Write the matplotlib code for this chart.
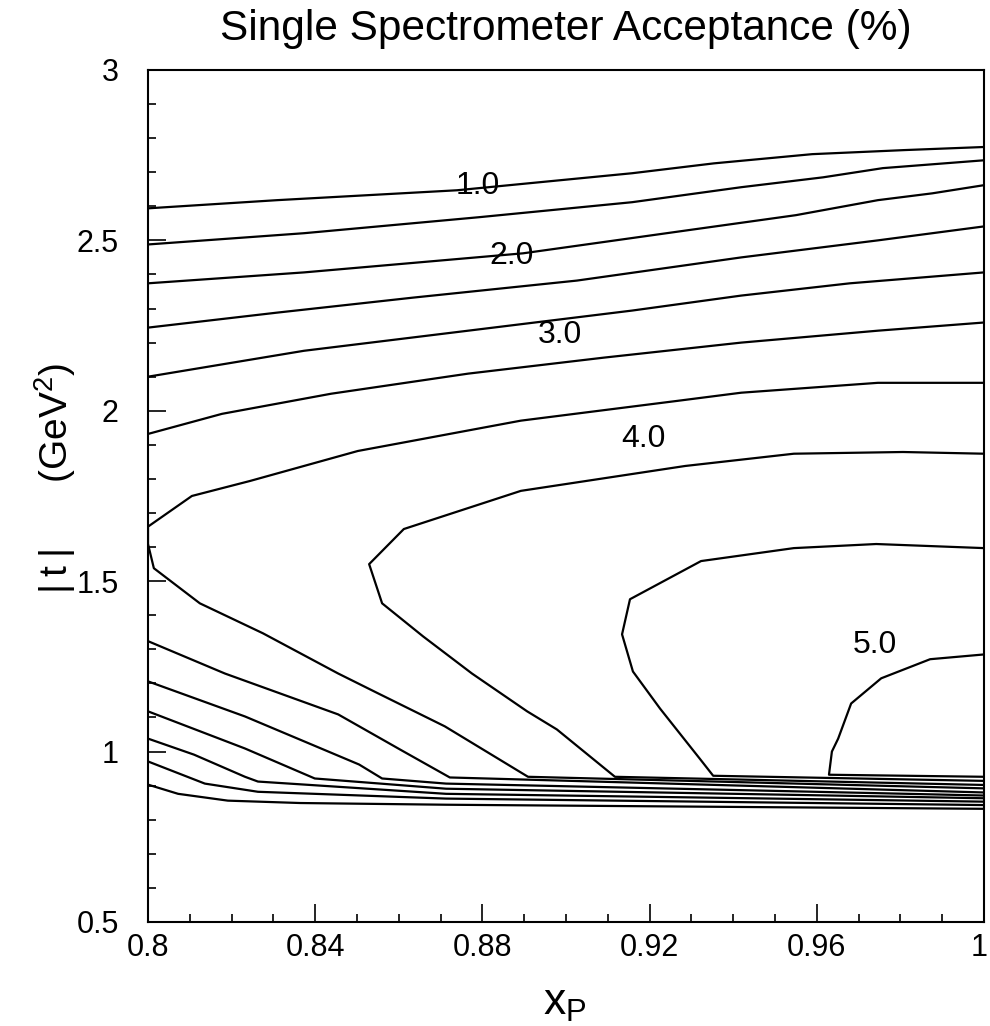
import numpy as np
import matplotlib
matplotlib.use('Agg')
import matplotlib.pyplot as plt
import matplotlib.transforms as mtransforms
from matplotlib.ticker import MultipleLocator

plt.rcParams['font.family'] = ['Liberation Sans', 'DejaVu Sans']
plt.rcParams['mathtext.fontset'] = 'custom'
plt.rcParams['mathtext.rm'] = 'Liberation Sans'
plt.rcParams['mathtext.it'] = 'Liberation Sans'

# contour levels of the acceptance (%)
# upper branches: left edge -> right edge
u05_x = [0.8, 0.8309, 0.8739, 0.9158, 0.9354, 0.9589, 0.9811, 1.0]
u05_t = [2.594, 2.618, 2.647, 2.697, 2.726, 2.753, 2.765, 2.774]
u10_x = [0.8, 0.8373, 0.8792, 0.9158, 0.9419, 0.9615, 0.9758, 1.0]
u10_t = [2.488, 2.521, 2.568, 2.612, 2.656, 2.685, 2.712, 2.735]
u15_x = [0.8, 0.8373, 0.8897, 0.9287, 0.955, 0.9746, 0.9876, 1.0]
u15_t = [2.374, 2.406, 2.462, 2.529, 2.574, 2.618, 2.638, 2.662]
u20_x = [0.8, 0.8309, 0.8634, 0.9026, 0.9419, 0.9746, 1.0]
u20_t = [2.244, 2.288, 2.332, 2.382, 2.45, 2.5, 2.541]
u25_x = [0.8, 0.8373, 0.8766, 0.9158, 0.9419, 0.9679, 1.0]
u25_t = [2.1, 2.176, 2.235, 2.294, 2.338, 2.374, 2.406]
u30_x = [0.8, 0.8177, 0.8438, 0.8766, 0.9091, 0.9419, 0.9746, 1.0]
u30_t = [1.932, 1.991, 2.05, 2.109, 2.156, 2.2, 2.235, 2.259]

# lower branches: left edge -> bundle -> right edge
l05_x = [0.8, 0.8072, 0.8191, 0.8364, 0.8713, 1.0]
l05_t = [0.903, 0.876, 0.856, 0.849, 0.844, 0.832]
l10_x = [0.8, 0.8136, 0.8263, 0.8713, 1.0]
l10_t = [0.971, 0.906, 0.882, 0.862, 0.843]
l15_x = [0.8, 0.811, 0.8232, 0.8263, 0.8713, 1.0]
l15_t = [1.038, 0.991, 0.926, 0.912, 0.876, 0.853]
l20_x = [0.8, 0.8232, 0.8399, 0.8713, 1.0]
l20_t = [1.118, 1.009, 0.921, 0.891, 0.863]
l25_x = [0.8, 0.8232, 0.8505, 0.856, 0.8713, 1.0]
l25_t = [1.206, 1.103, 0.962, 0.921, 0.906, 0.871]
l30_x = [0.8, 0.8184, 0.8455, 0.8603, 0.8722, 1.0]
l30_t = [1.324, 1.229, 1.109, 1.006, 0.924, 0.880]

# levels 3.5 - 5.0: right edge -> around -> bundle -> right edge
c35_x = [1.0, 0.9746, 0.9419, 0.9266, 0.8892, 0.866, 0.8502, 0.8244, 0.8105, 0.8, 0.8,
         0.8014, 0.8124, 0.8275, 0.8455, 0.855, 0.871, 0.8909, 1.0]
c35_t = [2.082, 2.082, 2.053, 2.029, 1.971, 1.918, 1.882, 1.794, 1.75, 1.66, 1.609,
         1.538, 1.435, 1.347, 1.229, 1.171, 1.074, 0.926, 0.892]
c40_x = [1.0, 0.9806, 0.9545, 0.9285, 0.8892, 0.8612, 0.8529, 0.856, 0.8658, 0.8775,
         0.8907, 0.8978, 0.9117, 1.0]
c40_t = [1.874, 1.879, 1.874, 1.838, 1.765, 1.653, 1.55, 1.435, 1.338, 1.229,
         1.118, 1.065, 0.926, 0.902]
c45_x = [1.0, 0.9742, 0.9545, 0.9323, 0.9153, 0.9134, 0.916, 0.9225, 0.932, 0.9352, 1.0]
c45_t = [1.597, 1.609, 1.597, 1.559, 1.447, 1.344, 1.235, 1.126, 0.979, 0.929, 0.914]
c50_x = [1.0, 0.9871, 0.9754, 0.9682, 0.9651, 0.9636, 0.9629, 1.0]
c50_t = [1.285, 1.271, 1.215, 1.141, 1.038, 1.0, 0.932, 0.926]

lab_text = ['1.0', '2.0', '3.0', '4.0', '5.0']
lab_x = [0.879, 0.887, 0.8986, 0.9184, 0.974]
lab_t = [2.615, 2.41, 2.178, 1.872, 1.27]

xticks = [0.8, 0.84, 0.88, 0.92, 0.96, 1.0]
xticklabels = ['0.8', '0.84', '0.88', '0.92', '0.96', '1']
yticks = [0.5, 1, 1.5, 2, 2.5, 3]
yticklabels = ['0.5', '1', '1.5', '2', '2.5', '3']

fig = plt.figure(figsize=(9.9, 10.26), dpi=100)
ax = fig.add_axes([0.1495, 0.1014, 0.8445, 0.8304])

curves = [(u05_x, u05_t), (u10_x, u10_t), (u15_x, u15_t), (u20_x, u20_t),
          (u25_x, u25_t), (u30_x, u30_t),
          (l05_x, l05_t), (l10_x, l10_t), (l15_x, l15_t), (l20_x, l20_t),
          (l25_x, l25_t), (l30_x, l30_t),
          (c35_x, c35_t), (c40_x, c40_t), (c45_x, c45_t), (c50_x, c50_t)]
for cx, ct in curves:
    ax.plot(cx, ct, color='black', lw=1.6)

for s, lx, lt in zip(lab_text, lab_x, lab_t):
    ax.text(lx, lt, s, fontsize=23, ha='center', va='bottom')

ax.set_xlim(0.8, 1.0)
ax.set_ylim(0.5, 3.0)
ax.set_xticks(xticks)
ax.set_xticklabels(xticklabels)
ax.set_yticks(yticks)
ax.set_yticklabels(yticklabels)
ax.xaxis.set_minor_locator(MultipleLocator(0.01))
ax.yaxis.set_minor_locator(MultipleLocator(0.1))
ax.tick_params(which='both', direction='in', top=False, right=False, width=1.2)
ax.tick_params(which='major', length=13, labelsize=22)
ax.tick_params(axis='x', which='major', pad=8)
ax.tick_params(axis='y', which='major', pad=21)
ax.tick_params(which='minor', length=6)
for sp in ax.spines.values():
    sp.set_linewidth(1.5)

# keep the last x label inside the figure
lastlab = ax.get_xticklabels()[-1]
lastlab.set_transform(lastlab.get_transform() +
                      mtransforms.ScaledTranslation(-5 / 100, 0, fig.dpi_scale_trans))

fig.text(0.572, 0.972, 'Single Spectrometer Acceptance (%)', fontsize=30.5,
         ha='center', va='center')
fig.text(0.571, 0.022, r'$\mathregular{x_P}$', fontsize=32, ha='center', va='center')
fig.text(0.056, 0.534, '|\u2009t\u2009|      (GeV$^2$)', fontsize=28, rotation=90,
         ha='center', va='center')

fig.savefig('out.png', dpi=100)
